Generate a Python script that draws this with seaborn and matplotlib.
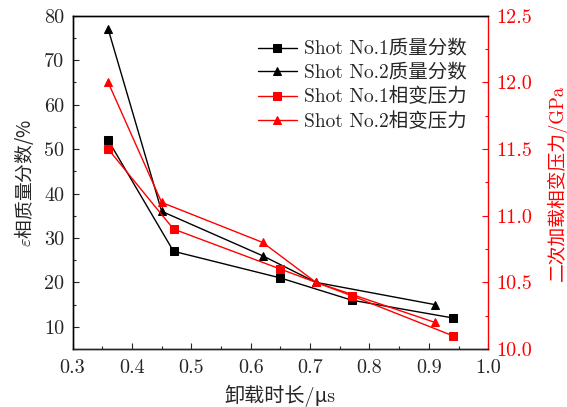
import matplotlib
matplotlib.use("Agg")
import matplotlib.pyplot as plt
import seaborn as sns
from matplotlib.ticker import MultipleLocator

# data
x_shot1 = [0.36, 0.47, 0.65, 0.77, 0.94]
x_shot2 = [0.36, 0.45, 0.62, 0.71, 0.91]
frac_shot1 = [52, 27, 21, 16, 12]
frac_shot2 = [77, 36, 26, 20, 15]
press_shot1 = [11.5, 10.9, 10.6, 10.4, 10.1]
press_shot2 = [12.0, 11.1, 10.8, 10.5, 10.2]
labels = ["Shot No.1质量分数", "Shot No.2质量分数",
          "Shot No.1相变压力", "Shot No.2相变压力"]

sns.set_style("ticks")
fams = ["cmr10", "Noto Sans CJK SC"]
plt.rcParams["font.family"] = fams
plt.rcParams["mathtext.fontset"] = "cm"
plt.rcParams["axes.unicode_minus"] = False

fig, ax = plt.subplots(figsize=(5.67, 4.07), dpi=100)
fig.subplots_adjust(left=0.128, right=0.861, top=0.961, bottom=0.1425)
ax2 = ax.twinx()

red = "#ff0000"

sns.lineplot(x=x_shot1, y=frac_shot1, ax=ax, color="black", marker="s",
             markersize=5.2, linewidth=1.0, mec="black", label=labels[0])
sns.lineplot(x=x_shot2, y=frac_shot2, ax=ax, color="black", marker="^",
             markersize=6.3, linewidth=1.0, mec="black", label=labels[1])
sns.lineplot(x=x_shot1, y=press_shot1, ax=ax2, color=red, marker="s",
             markersize=5.2, linewidth=1.0, mec=red, label=labels[2])
sns.lineplot(x=x_shot2, y=press_shot2, ax=ax2, color=red, marker="^",
             markersize=6.3, linewidth=1.0, mec=red, label=labels[3])

h1, l1 = ax.get_legend_handles_labels()
h2, l2 = ax2.get_legend_handles_labels()
ax.get_legend().remove()
ax2.get_legend().remove()
ax2.legend(h1 + h2, l1 + l2, loc="upper right", bbox_to_anchor=(0.968, 0.95),
           frameon=False, handlelength=2.0, handletextpad=0.4,
           labelspacing=0.3, borderaxespad=0, borderpad=0.4,
           prop={"family": fams, "size": 14})

ax.set_xlim(0.3, 1.0)
ax.set_ylim(5, 80)
ax2.set_ylim(10.0, 12.5)

ax.xaxis.set_major_locator(MultipleLocator(0.1))
ax.xaxis.set_minor_locator(MultipleLocator(0.05))
ax.yaxis.set_major_locator(MultipleLocator(10))
ax.yaxis.set_minor_locator(MultipleLocator(5))
ax2.yaxis.set_major_locator(MultipleLocator(0.5))
ax2.yaxis.set_minor_locator(MultipleLocator(0.25))
ax.set_xticks(ax.get_xticks())
ax.set_xticklabels([f"{v:.1f}" for v in ax.get_xticks()])
ax.set_xlim(0.3, 1.0)
ax2.set_yticks(ax2.get_yticks())
ax2.set_yticklabels([f"{v:.1f}" for v in ax2.get_yticks()])
ax2.set_ylim(10.0, 12.5)

ax.tick_params(axis="both", which="both", direction="in", top=False, right=False,
               labelsize=14.5, width=0.8)
ax.tick_params(axis="x", which="both", pad=7)
ax.tick_params(axis="y", which="both", pad=6)
ax.tick_params(which="major", length=4.3)
ax.tick_params(which="minor", length=2.2)
ax2.tick_params(axis="y", which="both", direction="in", colors=red,
                labelsize=14.5, width=0.8, pad=6)
ax2.tick_params(axis="y", which="major", length=4.3)
ax2.tick_params(axis="y", which="minor", length=2.2)

for a in (ax, ax2):
    for s in a.spines.values():
        s.set_linewidth(1.0)
        s.set_visible(True)
ax.spines["right"].set_visible(False)
ax2.spines["right"].set_color(red)
ax2.spines["left"].set_color("black")
ax2.spines["top"].set_color("black")

ax.set_xlabel("卸载时长/μs", fontsize=14.5, family=fams, labelpad=6)
ax.set_ylabel(r"$\varepsilon$相质量分数/%", fontsize=13.5,
              family="Noto Sans CJK SC", labelpad=6)
ax2.set_ylabel("二次加载相变压力/GPa", fontsize=13.5, family=fams,
               color=red, rotation=90, labelpad=10)

fig.savefig("out.png", dpi=100)
